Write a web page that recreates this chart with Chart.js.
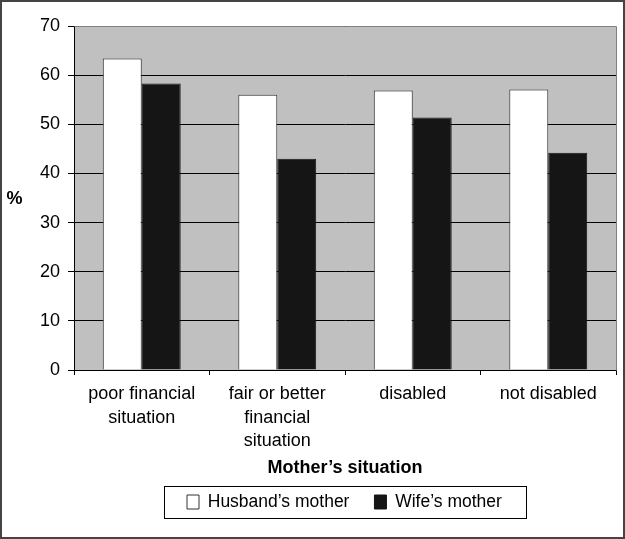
<!DOCTYPE html>
<html>
<head>
<meta charset="utf-8">
<script src="https://cdn.jsdelivr.net/npm/chart.js@4"></script>
<style>
  html, body { margin: 0; padding: 0; background: #fff; }
  #wrap { width: 625px; height: 539px; position: relative; }
</style>
</head>
<body>
<div id="wrap"><canvas id="c" width="625" height="539"></canvas></div>
<script>
const categories = [
  ['poor financial', 'situation'],
  ['fair or better', 'financial', 'situation'],
  'disabled',
  'not disabled'
];
const seriesNames = ["Husband\u2019s mother", "Wife\u2019s mother"];
const husbandsMother = [63.4, 56.0, 56.9, 57.1];
const wifesMother = [58.3, 43.0, 51.4, 44.2];
const yTicks = [0, 10, 20, 30, 40, 50, 60, 70];
const xTitle = "Mother\u2019s situation";
const yTitle = "%";

const FONT = '"Liberation Sans", Arial, Helvetica, sans-serif';
const LEGEND_FONT_SIZE = 17.5;

const plotDeco = {
  id: 'plotDeco',
  beforeDraw(chart) {
    const { ctx, chartArea: a } = chart;
    ctx.save();
    ctx.fillStyle = '#c0c0c0';
    ctx.fillRect(a.left, a.top, a.right - a.left, a.bottom - a.top);
    ctx.restore();
  },
  beforeDatasetsDraw(chart) {
    const { ctx, chartArea: a } = chart;
    ctx.save();
    ctx.strokeStyle = '#808080';
    ctx.lineWidth = 1;
    ctx.beginPath();
    ctx.moveTo(Math.round(a.left) + 0.5, Math.round(a.top) + 0.5);
    ctx.lineTo(Math.round(a.right) + 0.5, Math.round(a.top) + 0.5);
    ctx.lineTo(Math.round(a.right) + 0.5, Math.round(a.bottom) + 0.5);
    ctx.stroke();
    ctx.restore();
  },
  afterLayout(chart) {
    const lg = chart.legend;
    if (!lg) return;
    const pad = lg.options.labels.padding;
    const itemH = Math.max(LEGEND_FONT_SIZE, 14);
    const newTop = 502 - pad - itemH / 2;
    const dy = newTop - lg.top;
    lg.top += dy; lg.bottom += dy;
    const lw = (lg.lineWidths && lg.lineWidths[0]) || 0;
    const startX = (lg.left + pad + lg.right - lw) / 2;
    const dx = 187 - startX;
    lg.left += dx; lg.right += dx;
  },
  afterDraw(chart) {
    const { ctx, chartArea: a } = chart;
    ctx.save();
    ctx.fillStyle = '#000';
    ctx.font = 'bold 18px ' + FONT;
    ctx.textAlign = 'center';
    ctx.textBaseline = 'middle';
    ctx.fillText(yTitle, 14.5, (a.top + a.bottom) / 2 + 1);
    const lg = chart.legend;
    if (lg && lg.legendHitBoxes && lg.legendHitBoxes.length) {
      const hb = lg.legendHitBoxes;
      let l = Infinity, r = -Infinity;
      hb.forEach(h => { l = Math.min(l, h.left); r = Math.max(r, h.left + h.width); });
      const cy = 502;
      ctx.strokeStyle = '#000';
      ctx.lineWidth = 1;
      ctx.strokeRect(Math.round(l - 23) + 0.5, Math.round(cy - 16) + 0.5, Math.round(r - l + 47), 32);
    }
    ctx.strokeStyle = '#444';
    ctx.lineWidth = 2;
    ctx.strokeRect(1, 1, 623, 537);
    ctx.restore();
  }
};

new Chart(document.getElementById('c'), {
  type: 'bar',
  data: {
    labels: categories,
    datasets: [
      {
        label: seriesNames[0],
        data: husbandsMother,
        backgroundColor: '#ffffff',
        borderColor: '#333333',
        borderWidth: 1,
        categoryPercentage: 0.575,
        barPercentage: 1.0
      },
      {
        label: seriesNames[1],
        data: wifesMother,
        backgroundColor: '#151515',
        borderColor: '#151515',
        borderWidth: 1,
        categoryPercentage: 0.575,
        barPercentage: 1.0
      }
    ]
  },
  options: {
    responsive: false,
    devicePixelRatio: 1,
    animation: false,
    layout: { padding: { left: 0, right: 9, top: 26, bottom: 7.5 } },
    plugins: {
      tooltip: { enabled: false },
      legend: {
        position: 'bottom',
        labels: {
          color: '#000',
          font: { family: FONT, size: LEGEND_FONT_SIZE },
          boxWidth: 12,
          boxHeight: 14,
          padding: 25
        }
      }
    },
    scales: {
      x: {
        offset: true,
        grid: {
          offset: true,
          drawOnChartArea: false,
          drawTicks: true,
          tickLength: 5,
          color: '#000'
        },
        border: { display: true, color: '#000', width: 1 },
        ticks: {
          color: '#000',
          font: { family: FONT, size: 18, lineHeight: 1.28 },
          padding: 8,
          maxRotation: 0,
          autoSkip: false
        },
        title: {
          display: true,
          text: xTitle,
          color: '#000',
          font: { family: FONT, size: 18, weight: 'bold', lineHeight: 1.2 },
          padding: { top: 0, bottom: 0 }
        },
        afterFit(scale) { scale.height = 109; }
      },
      y: {
        min: 0,
        max: 70,
        afterBuildTicks(scale) { scale.ticks = yTicks.map(v => ({ value: v })); },
        grid: {
          color: '#000',
          lineWidth: 1,
          drawTicks: true,
          tickLength: 6
        },
        border: { display: true, color: '#000', width: 1 },
        ticks: {
          color: '#000',
          font: { family: FONT, size: 18 },
          padding: 8
        },
        afterFit(scale) { scale.width = 74; }
      }
    }
  },
  plugins: [plotDeco]
});
</script>
</body>
</html>
